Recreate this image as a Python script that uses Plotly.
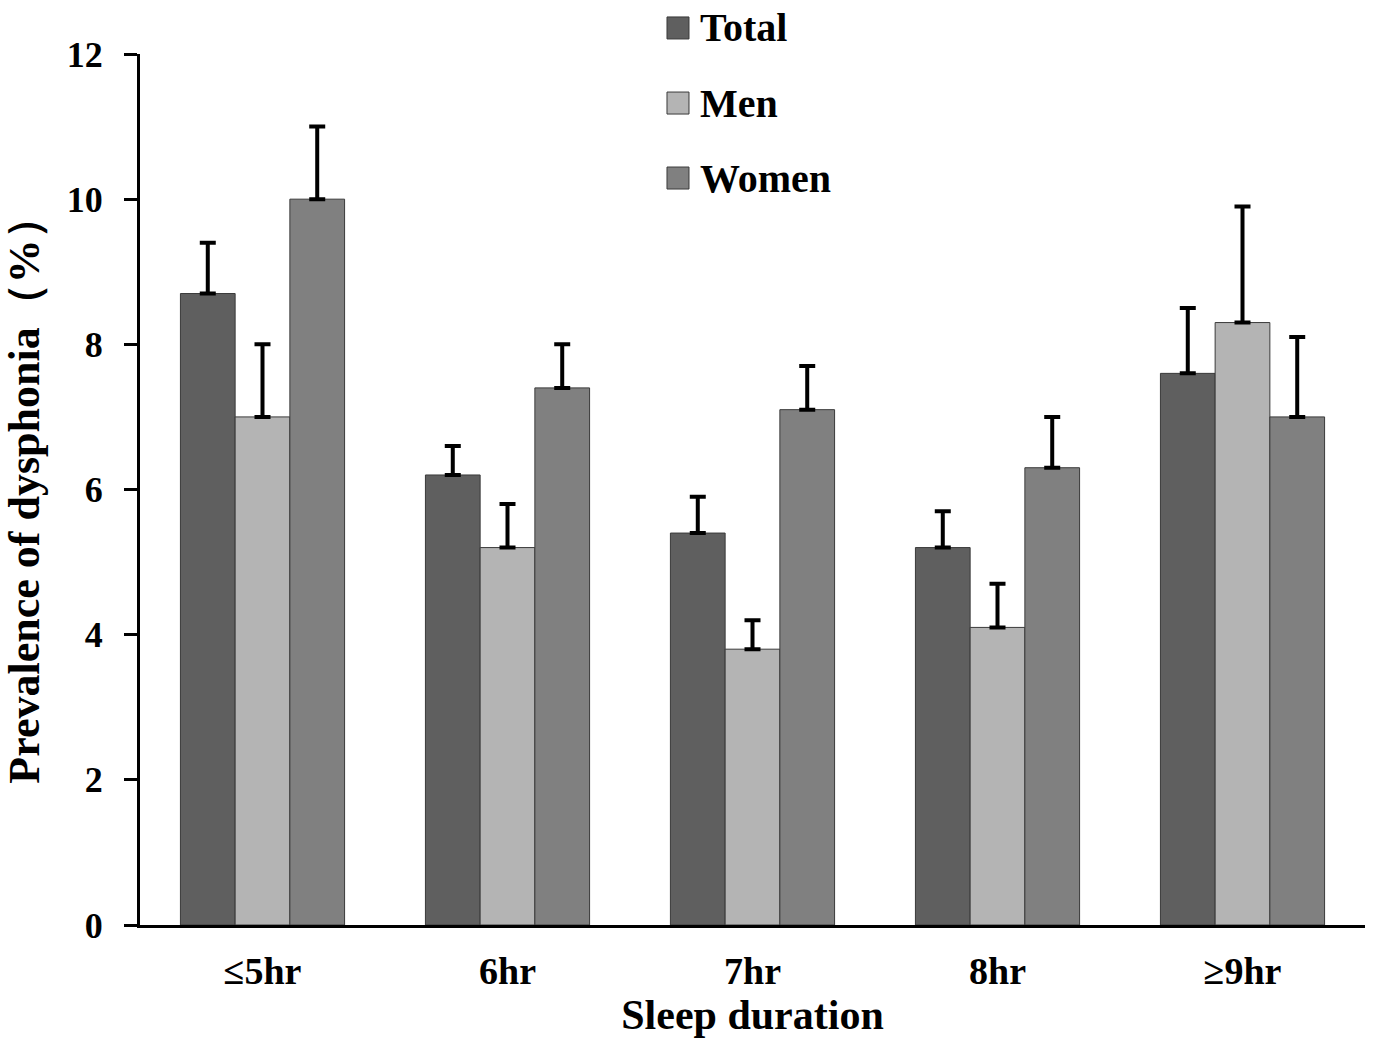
import plotly.graph_objects as go

# Sleep duration categories
categories = ["≤5hr", "6hr", "7hr", "8hr", "≥9hr"]

# Prevalence of dysphonia (%) per group
total = [8.7, 6.2, 5.4, 5.2, 7.6]
men = [7.0, 5.2, 3.8, 4.1, 8.3]
women = [10.0, 7.4, 7.1, 6.3, 7.0]

# Upper limits of the error bars (%)
total_upper = [9.4, 6.6, 5.9, 5.7, 8.5]
men_upper = [8.0, 5.8, 4.2, 4.7, 9.9]
women_upper = [11.0, 8.0, 7.7, 7.0, 8.1]

series_names = ["Total", "Men", "Women"]
series_colors = ["#5f5f5f", "#b4b4b4", "#808080"]

y_ticks = [0, 2, 4, 6, 8, 10, 12]

FONT = "Liberation Serif, Times New Roman, serif"

fig = go.Figure()
for name, vals, upper, color in zip(series_names, [total, men, women],
                                    [total_upper, men_upper, women_upper],
                                    series_colors):
    fig.add_trace(go.Bar(
        name=name,
        x=categories,
        y=vals,
        marker=dict(color=color, line=dict(color="#3a3a3a", width=1)),
        error_y=dict(
            type="data",
            symmetric=False,
            array=[u - v for u, v in zip(upper, vals)],
            arrayminus=[0] * len(vals),
            color="black",
            thickness=4,
            width=8,
        ),
        showlegend=False,
    ))

# Legend: stacked swatches with labels above the plot's centre
legend_x = 0.4302
legend_rows_y = [1.0299, 0.9437, 0.8576]
for name, color, ly in zip(series_names, series_colors, legend_rows_y):
    fig.add_shape(
        type="rect", xref="paper", yref="paper",
        xsizemode="pixel", ysizemode="pixel",
        xanchor=legend_x, yanchor=ly,
        x0=0, x1=22, y0=-11, y1=11,
        fillcolor=color, line=dict(color="#3a3a3a", width=1),
    )
    fig.add_annotation(
        text=name, xref="paper", yref="paper",
        x=legend_x + 0.0255, y=ly, xanchor="left", yanchor="middle",
        showarrow=False,
        font=dict(family=FONT, size=40, color="black", weight="bold"),
    )

fig.update_layout(
    width=1374,
    height=1040,
    paper_bgcolor="white",
    plot_bgcolor="white",
    barmode="group",
    bargap=0.33,
    bargroupgap=0,
    margin=dict(l=140, r=9, t=54, b=115),
    font=dict(family=FONT, size=34, color="black", weight="bold"),
    showlegend=False,
    xaxis=dict(
        showline=True, linecolor="black", linewidth=3,
        ticks="", showgrid=False,
        tickfont=dict(family=FONT, size=38, color="black", weight="bold"),
        ticklabelstandoff=10,
        title=dict(text="Sleep duration", standoff=4,
                   font=dict(family=FONT, size=42, color="black", weight="bold")),
    ),
    yaxis=dict(
        range=[0, 12], tickvals=y_ticks,
        showline=True, linecolor="black", linewidth=3,
        ticks="outside", ticklen=13, tickwidth=3, tickcolor="black",
        showgrid=False, zeroline=False,
        tickfont=dict(family=FONT, size=36, color="black", weight="bold"),
        ticklabelstandoff=14,
        title=dict(text="Prevalence of dysphonia（%）", standoff=18,
                   font=dict(family=FONT, size=44, color="black", weight="bold")),
    ),
)

fig.write_html("out.html")
